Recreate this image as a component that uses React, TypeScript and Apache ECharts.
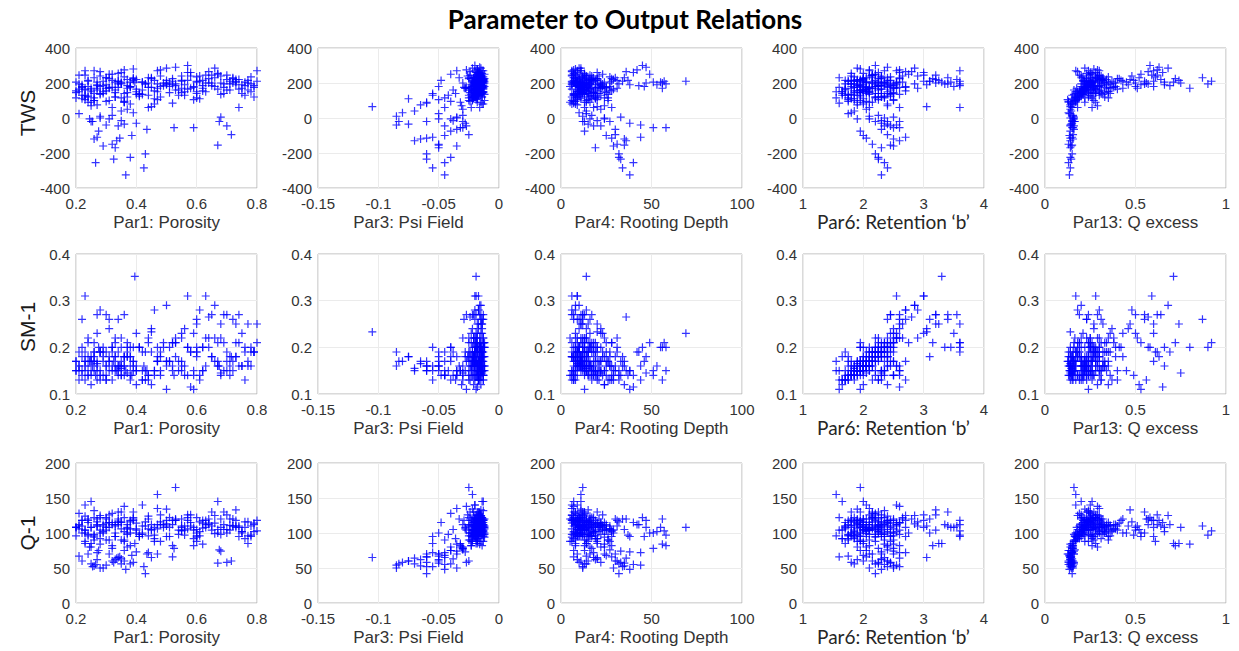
import React, { useEffect, useRef } from "react";
import * as echarts from "echarts";

// Ensemble samples: each index is one model run (parameters + outputs)
const par1 = [
  0.365,0.425,0.265,0.325,0.38,0.43,0.33,0.29,0.67,0.32, 0.335,0.26,0.345,0.27,0.385,0.715,0.275,0.435,0.525,0.59,
  0.34,0.7,0.3,0.36,0.4,0.25,0.675,0.35,0.245,0.31, 0.68,0.255,
  0.45,0.22,0.39,0.27,0.28,0.35,0.24,0.33,0.23,0.37, 0.26,0.29,0.21,0.44,0.6,0.52,0.32,0.27,0.36,0.23,
  0.41,0.28,0.74,0.3,0.38,0.2,0.47,0.25,0.53,0.47,
  0.21,0.23,0.24,0.26,0.27,0.29,0.3,0.31,0.33,0.34, 0.35,0.36,0.37,0.39,0.4,0.42,0.43,0.45,0.46,0.48,
  0.49,0.51,0.53,0.55,0.56,0.58,0.6,0.62,0.64,0.66, 0.69,0.71,0.73,0.75,0.77,0.79,0.22,0.25,0.28,0.32,
  0.35,0.38,0.41,0.47,0.54,0.63,0.7,0.24,0.3,0.36, 0.21,0.23,0.26,0.28,0.31,0.34,0.37,0.4,0.44,0.5,
  0.57,0.61,0.65,0.68,0.72,0.76,0.78,0.22,0.24,0.27, 0.29,0.32,0.34,0.36,0.38,0.42,0.46,0.5,0.52,0.57,
  0.59,0.62,0.67,0.73,0.25,0.31,0.39,0.48,0.55,0.6, 0.2,0.23,0.26,0.28,0.3,0.33,0.35,0.37,0.44,0.5,
  0.395,0.55,0.57,0.53,0.48,0.6,0.65,0.76,0.8,0.78, 0.72,0.62,0.68,0.58,0.45,0.5,0.64,0.7,0.74,0.61,
  0.56,0.66,0.52,0.77,0.8,0.47,0.59,0.69,0.73,0.63, 0.42,0.51,0.75,0.46,0.79,0.55,0.67,0.44,0.71,0.6,
  0.21,0.22,0.24,0.25,0.27,0.28,0.3,0.32,0.33,0.35, 0.36,0.38,0.39,0.41,0.43,0.46,0.49,0.52,0.55,0.58,
  0.61,0.64,0.67,0.7,0.73,0.76,0.79,0.2,0.23,0.26, 0.29,0.31,0.34,0.37,0.4,0.42,0.45,0.48,0.51,0.54,
  0.57,0.6,0.63,0.66,0.69,0.72,0.75,0.78,0.21,0.24, 0.27,0.3,0.33,0.36,0.39,0.22,0.25,0.28,0.31,0.34,
  0.37,0.4,0.47,0.53,0.59,0.65,0.71,0.77,0.2,0.26, 0.32,0.38,0.44,0.5,0.56,0.62,0.68,0.74,0.23,0.35,
];
const par3 = [
  -0.045,-0.055,-0.045,-0.06,-0.04,-0.06,-0.05,-0.035,-0.05,-0.05, -0.07,-0.065,-0.06,-0.055,-0.045,-0.025,-0.04,-0.035,-0.03,-0.032,
  -0.045,-0.027,-0.085,-0.075,-0.028,-0.083,-0.03,-0.038,-0.04,-0.05, -0.035,-0.06,
  -0.105,-0.075,-0.08,-0.065,-0.085,-0.07,-0.06,-0.02,-0.055,-0.03, -0.025,-0.018,-0.05,-0.045,-0.02,-0.06,-0.03,-0.015,-0.04,-0.022,
  -0.012,-0.035,-0.016,-0.028,-0.014,-0.025,-0.05,-0.013,-0.025,-0.022,
  -0.015,-0.018,-0.022,-0.014,-0.02,-0.016,-0.025,-0.013,-0.019,-0.017, -0.021,-0.015,-0.028,-0.012,-0.023,-0.016,-0.02,-0.014,-0.018,-0.026,
  -0.015,-0.019,-0.013,-0.022,-0.017,-0.024,-0.014,-0.02,-0.016,-0.021, -0.015,-0.019,-0.012,-0.018,-0.023,-0.014,-0.029,-0.032,-0.036,-0.04,
  -0.045,-0.05,-0.055,-0.035,-0.042,-0.03,-0.038,-0.048,-0.033,-0.027, -0.016,-0.02,-0.013,-0.017,-0.022,-0.014,-0.019,-0.015,-0.021,-0.016,
  -0.018,-0.013,-0.024,-0.017,-0.015,-0.02,-0.013,-0.025,-0.016,-0.014, -0.019,-0.023,-0.015,-0.018,-0.014,-0.02,-0.017,-0.022,-0.015,-0.019,
  -0.027,-0.016,-0.014,-0.021,-0.031,-0.013,-0.018,-0.023,-0.014,-0.02, -0.017,-0.013,-0.021,-0.015,-0.019,-0.024,-0.016,-0.013,-0.018,-0.015,
  -0.019,-0.015,-0.02,-0.016,-0.018,-0.014,-0.022,-0.017,-0.013,-0.015, -0.02,-0.016,-0.014,-0.018,-0.021,-0.019,-0.024,-0.016,-0.013,-0.02,
  -0.017,-0.015,-0.023,-0.018,-0.014,-0.016,-0.019,-0.021,-0.015,-0.017, -0.014,-0.022,-0.018,-0.013,-0.019,-0.025,-0.012,-0.02,-0.016,-0.018,
  -0.014,-0.017,-0.021,-0.013,-0.016,-0.019,-0.024,-0.015,-0.018,-0.012, -0.02,-0.016,-0.014,-0.022,-0.017,-0.013,-0.019,-0.015,-0.021,-0.016,
  -0.018,-0.013,-0.02,-0.015,-0.023,-0.017,-0.014,-0.019,-0.016,-0.012, -0.021,-0.015,-0.018,-0.013,-0.02,-0.017,-0.025,-0.014,-0.016,-0.019,
  -0.013,-0.022,-0.015,-0.018,-0.014,-0.02,-0.016,-0.013,-0.017,-0.019, -0.015,-0.021,-0.014,-0.018,-0.016,-0.012,-0.02,-0.015,-0.017,-0.023,
  -0.014,-0.018,-0.016,-0.013,-0.019,-0.015,-0.021,-0.017,-0.014,-0.016, -0.018,-0.013,-0.02,-0.015,-0.017,-0.014,-0.019,-0.016,-0.022,-0.015,
];
const par4 = [
  38,34,40,33,32,32,19,29,35,31, 36,35,28,44,25,30,13,30,51,58, 18,22,44,15,38,13,27,20,16,24, 33,12,
  20,11,10,9,12,14,16,11,8,22, 26,9,14,18,10,7,17,12,7,20, 13,24,28,15,8,19,9,11,12,11,
  8,12,6,15,10,18,7,21,9,13, 24,5,11,16,8,27,14,10,19,6, 22,12,9,17,7,25,11,14,20,8, 13,23,9,16,12,19,10,14,20,8,
  26,11,17,6,22,13,9,15,30,7, 13,9,11,6,14,18,10,24,12,8, 16,28,7,12,20,9,15,18,5,22, 8,13,16,10,27,6,14,11,19,9,
  13,31,7,17,24,12,8,15,21,10, 14,29,9,17,6,12,20,10,25,7,
  14,69,45,47,42,9,11,55,57,58, 7,56,47,40,35,38,36,13,17,8, 22,10,28,20,11,16,23,12,15,6, 51,46,53,37,43,31,49,56,34,27,
  9,14,6,19,11,23,8,16,12,27, 7,13,18,10,21,6,15,9,25,12, 17,8,11,29,14,7,20,10,16,6, 13,22,9,18,11,26,8,15,12,19,
  7,24,10,14,17,9,21,12,6,16, 11,28,8,13,19,10,15,7,23,12, 9,17,14,6,20,11,13,8,18,10, 25,7,16,12,9,22,14,11,15,32,
];
const par6 = [
  2.3,2.4,2.35,2.25,2.25,2.2,2.3,2.5,2.45,2.15, 2.6,2.5,2.05,2.7,2.0,2.4,1.95,2.3,2.5,2.6, 2.35,2.45,2.55,2.4,2.3,2.2,2.4,2.3,1.9,2.1, 2.5,2.6,
  3.05,2.0,1.8,1.9,2.1,1.85,2.15,2.2,1.7,2.05, 1.95,2.3,1.75,2.6,2.0,1.6,2.25,2.45,2.05,1.95, 2.1,2.35,3.6,1.7,2.4,1.55,2.5,1.65,1.95,1.55,
  1.85,2.05,1.75,2.2,1.95,2.4,1.6,2.1,2.3,1.8, 2.55,1.9,2.15,2.0,2.45,1.7,2.25,2.6,1.85,2.1,
  2.35,1.95,2.5,2.0,1.75,2.2,2.65,1.9,2.3,2.05, 2.4,1.8,2.15,2.5,1.95,2.25,2.7,2.0,1.65,2.2,
  2.35,1.8,2.45,2.1,1.9,2.55,2.25,1.7,2.05,2.6, 2.15,2.55,2.35,2.7,2.5,2.0,2.25,1.65,2.4,2.85,
  2.3,1.85,2.15,2.6,2.0,2.3,2.05,1.95,2.25,2.55, 1.75,2.1,2.4,1.85,2.2,2.05,2.7,1.9,2.35,3.0,
  1.6,2.45,2.0,2.25,2.4,2.6,1.95,2.2,1.8,2.5, 2.05,2.3,1.75,2.15,2.45,1.85,2.25,2.0,2.5,1.95,
  3.3,3.0,2.2,2.4,2.1,3.1,3.2,3.45,3.6,3.6, 3.4,2.5,2.3,2.6,2.0,1.95,2.8,3.2,3.55,2.9,
  3.05,2.85,3.15,3.25,3.6,3.35,3.5,3.4,3.2,3.0, 2.35,2.7,2.55,1.85,3.6,2.9,2.75,2.15,3.1,2.45,
  2.1,1.9,2.3,1.8,2.0,2.2,1.75,2.4,1.95,2.05, 2.25,1.85,2.15,2.35,1.7,2.0,2.45,1.9,2.1,2.3,
  1.8,2.55,2.05,1.95,2.2,1.65,2.4,2.0,2.15,1.85, 2.3,2.1,1.9,2.5,2.05,1.75,2.25,1.95,2.35,2.1,
  1.8,2.2,2.0,2.6,1.9,2.15,2.05,2.3,1.7,2.45, 2.0,1.85,2.25,2.1,1.95,2.4,2.05,1.8,2.2,2.0,
  2.35,1.9,2.1,2.5,1.75,2.25,2.0,2.15,1.95,2.3, 2.05,2.4,1.85,2.2,2.1,1.9,2.65,2.0,2.25,1.8,
];
const par13 = [
  0.135,0.14,0.13,0.145,0.14,0.15,0.14,0.145,0.15,0.13, 0.14,0.155,0.14,0.15,0.135,0.155,0.14,0.16,0.15,0.155,
  0.14,0.16,0.14,0.145,0.15,0.16,0.165,0.15,0.155,0.16, 0.16,0.15,
  0.14,0.15,0.13,0.14,0.155,0.145,0.13,0.165,0.15,0.14, 0.16,0.17,0.135,0.15,0.18,0.145,0.155,0.19,0.13,0.17,
  0.16,0.14,0.18,0.175,0.15,0.165,0.125,0.2,0.16,0.17,
  0.22,0.25,0.21,0.28,0.24,0.3,0.2,0.33,0.26,0.23, 0.35,0.22,0.27,0.29,0.21,0.31,0.24,0.37,0.26,0.2,
  0.39,0.28,0.23,0.32,0.25,0.34,0.27,0.22,0.41,0.29, 0.24,0.36,0.3,0.43,0.26,0.33,0.23,0.28,0.31,0.25,
  0.35,0.22,0.27,0.3,0.24,0.38,0.26,0.21,0.32,0.29, 0.19,0.17,0.24,0.18,0.27,0.22,0.3,0.35,0.25,0.2,
  0.28,0.37,0.24,0.32,0.4,0.27,0.35,0.3,0.2,0.36, 0.23,0.26,0.31,0.21,0.39,0.25,0.3,0.22,0.34,0.28,
  0.24,0.42,0.26,0.33,0.29,0.23,0.27,0.24,0.31,0.36, 0.26,0.4,0.22,0.28,0.24,0.33,0.25,0.3,0.38,0.23,
  0.71,0.6,0.58,0.63,0.62,0.55,0.5,0.66,0.92,0.9, 0.87,0.8,0.75,0.65,0.52,0.53,0.57,0.62,0.64,0.48,
  0.46,0.68,0.72,0.74,0.6,0.57,0.5,0.55,0.47,0.59, 0.45,0.6,0.66,0.49,0.69,0.51,0.53,0.56,0.43,0.61,
  0.2,0.24,0.18,0.27,0.22,0.3,0.17,0.25,0.21,0.33, 0.19,0.23,0.28,0.2,0.26,0.16,0.31,0.22,0.24,0.29,
  0.18,0.25,0.21,0.34,0.23,0.19,0.27,0.2,0.3,0.17, 0.24,0.22,0.26,0.19,0.28,0.21,0.32,0.23,0.25,0.2,
  0.27,0.18,0.24,0.29,0.22,0.26,0.2,0.35,0.23,0.19, 0.25,0.21,0.28,0.17,0.3,0.22,0.24,0.2,0.26,0.23,
  0.19,0.31,0.21,0.25,0.18,0.27,0.22,0.24,0.2,0.28, 0.23,0.26,0.19,0.32,0.21,0.25,0.3,0.22,0.17,0.24,
];
const tws = [
  -325,-285,-255,-235,-225,-205,-170,-160,-155,-150, -130,-120,-115,-110,-100,-95,-75,-65,-55,-55,
  -45,-45,-40,-35,-30,-20,-20,-15,-5,-5, 5,-20,
  65,110,30,75,10,40,90,120,130,50, 100,140,25,60,150,85,15,160,95,120, 135,0,60,170,80,115,105,150,160,150,
  195,160,210,140,185,150,230,175,120,255, 205,90,170,225,135,160,195,175,110,240,
  200,145,185,215,130,170,205,155,225,180, 140,195,210,170,160,120,175,90,140,250,
  115,180,140,270,130,200,160,215,230,275, 245,270,270,265,100,210,185,150,230,195,
  165,210,245,135,225,185,150,130,180,170, 210,60,195,235,180,205,155,285,190,260,
  175,215,255,205,70,225,280,120,240,140, 205,165,115,240,190,145,260,220,175,200,
  205,210,300,290,275,210,200,205,210,195, 230,170,200,260,230,190,265,245,220,240,
  190,285,225,215,270,195,180,195,220,245, 205,180,190,215,185,170,250,200,210,235,
  150,190,120,170,205,180,95,215,160,200, 140,175,230,125,195,80,185,210,145,240,
  110,200,165,220,190,130,175,155,245,100, 185,170,210,145,165,135,225,180,200,160,
  215,115,150,230,175,200,140,235,165,125, 190,155,205,90,215,180,160,135,250,175,
  120,220,170,195,105,185,160,200,145,230, 175,205,130,215,150,185,240,165,105,195,
];
const sm = [
  0.15,0.16,0.14,0.17,0.13,0.15,0.18,0.14,0.16,0.19, 0.15,0.17,0.16,0.13,0.14,0.18,0.2,0.15,0.14,0.15,
  0.19,0.17,0.16,0.18,0.15,0.17,0.16,0.14,0.17,0.15, 0.14,0.16,
  0.233,0.18,0.17,0.165,0.19,0.155,0.16,0.22,0.15,0.145, 0.17,0.19,0.16,0.14,0.2,0.15,0.13,0.27,0.18,0.17,
  0.2,0.15,0.21,0.19,0.18,0.15,0.17,0.18,0.21,0.17,
  0.15,0.17,0.14,0.19,0.16,0.2,0.13,0.17,0.21,0.15, 0.22,0.14,0.18,0.16,0.23,0.13,0.19,0.24,0.15,0.18,
  0.2,0.17,0.22,0.16,0.14,0.19,0.25,0.15,0.2,0.17, 0.21,0.14,0.18,0.23,0.16,0.19,0.26,0.15,0.13,0.2,
  0.17,0.16,0.2,0.18,0.15,0.22,0.19,0.14,0.16,0.27, 0.19,0.31,0.21,0.28,0.24,0.16,0.2,0.12,0.22,0.29,
  0.2,0.13,0.18,0.25,0.15,0.19,0.16,0.14,0.22,0.23, 0.17,0.15,0.26,0.16,0.18,0.19,0.28,0.17,0.21,0.31,
  0.11,0.2,0.17,0.21,0.12,0.26,0.2,0.14,0.15,0.19, 0.17,0.13,0.18,0.19,0.27,0.16,0.2,0.18,0.21,0.16,
  0.352,0.23,0.2,0.18,0.19,0.26,0.27,0.2,0.21,0.2, 0.26,0.2,0.145,0.115,0.12,0.11,0.265,0.27,0.27,0.28,
  0.24,0.29,0.21,0.25,0.25,0.2,0.23,0.27,0.25,0.31, 0.15,0.17,0.16,0.14,0.19,0.22,0.21,0.13,0.18,0.19,
  0.16,0.15,0.18,0.14,0.17,0.19,0.13,0.2,0.15,0.16, 0.18,0.14,0.17,0.2,0.13,0.15,0.21,0.16,0.17,0.19,
  0.14,0.22,0.16,0.15,0.18,0.13,0.19,0.17,0.16,0.15, 0.18,0.17,0.14,0.21,0.16,0.13,0.19,0.15,0.2,0.17,
  0.14,0.18,0.16,0.22,0.15,0.17,0.16,0.19,0.13,0.21, 0.15,0.14,0.18,0.16,0.15,0.2,0.17,0.14,0.18,0.16,
  0.19,0.15,0.17,0.21,0.14,0.18,0.16,0.17,0.15,0.19, 0.16,0.2,0.14,0.17,0.16,0.15,0.22,0.16,0.19,0.14,
];
const q = [
  48,52,55,58,56,42,62,50,57,60, 64,53,66,72,68,60,75,70,78,82, 65,58,54,60,73,56,76,63,80,70, 74,52,
  65,60,58,62,50,56,70,95,85,80, 90,100,67,72,105,66,78,110,75,88, 98,84,95,108,82,96,70,145,165,155,
  110,104,118,98,112,102,122,108,95,130, 115,88,106,120,100,110,116,104,92,126,
  112,108,118,103,97,110,122,107,114,99, 105,111,108,100,96,102,118,85,92,128,
  90,100,95,135,98,112,105,115,120,138, 128,140,132,125,90,115,108,104,124,113,
  106,102,130,98,110,116,95,100,120,110, 112,82,117,122,106,140,108,134,112,126,
  104,118,145,110,80,115,130,88,120,96, 108,104,96,122,114,100,130,112,106,118,
  85,108,122,118,112,100,104,108,103,97, 110,84,108,115,105,95,120,126,110,116,
  110,125,82,85,118,112,108,130,133,118, 100,95,102,97,112,110,100,120,120,88,
  112,118,98,108,120,104,90,115,110,106, 102,116,122,95,110,88,108,118,104,126,
  96,112,105,100,118,92,114,108,124,94, 110,115,120,100,106,98,112,116,122,104,
  118,94,108,114,112,120,102,110,106,96, 116,104,112,90,118,110,108,100,126,112,
  98,114,106,120,92,110,104,116,108,122, 112,118,96,110,104,114,120,108,100,116,
];

const colNames = ["Par1: Porosity", "Par3: Psi Field", "Par4: Rooting Depth", "Par6: Retention \u2018b\u2019", "Par13: Q excess"];
const colMin = [0.2, -0.15, 0, 1, 0];
const colMax = [0.8, 0, 100, 4, 1];
const colStep = [0.2, 0.05, 50, 1, 0.5];
const rowNames = ["TWS", "SM-1", "Q-1"];
const rowMin = [-400, 0.1, 0];
const rowMax = [400, 0.4, 200];
const rowStep = [200, 0.1, 50];
const titleText = "Parameter to Output Relations";

const colLeft = [76, 318, 561, 803, 1045];
const rowTop = [48, 254, 463];
const PW = 181;
const PH = 140;

export default function App() {
  const ref = useRef<HTMLDivElement>(null);
  useEffect(() => {
    if (!ref.current) return;
    const chart = echarts.init(ref.current, null, { renderer: "svg" });
    const params = [par1, par3, par4, par6, par13];
    const outs = [tws, sm, q];
    const fmt = (v: number) => String(parseFloat(v.toFixed(4)));
    const grids: any[] = [];
    const xAxes: any[] = [];
    const yAxes: any[] = [];
    const series: any[] = [];
    const font = "'Liberation Sans', Arial, sans-serif";
    for (let r = 0; r < 3; r++) {
      for (let c = 0; c < 5; c++) {
        const i = r * 5 + c;
        grids.push({
          left: colLeft[c], top: rowTop[r], width: PW, height: PH,
          show: true, borderColor: "#b4b4b4", borderWidth: 1, backgroundColor: "#fff",
        });
        xAxes.push({
          type: "value", gridIndex: i, min: colMin[c], max: colMax[c], interval: colStep[c],
          name: colNames[c], nameLocation: "middle", nameGap: c === 3 ? 24 : 26,
          nameTextStyle: c === 3
            ? { fontFamily: "Lato, 'Open Sans', sans-serif", fontSize: 19, color: "#262626" }
            : { fontFamily: font, fontSize: 17, color: "#333" },
          axisLine: { show: false }, axisTick: { show: false },
          splitLine: { show: true, lineStyle: { color: "#ebebeb", width: 1 } },
          axisLabel: { color: "#333", fontSize: 15, fontFamily: font, margin: 8, formatter: fmt },
        });
        yAxes.push({
          type: "value", gridIndex: i, min: rowMin[r], max: rowMax[r], interval: rowStep[r],
          axisLine: { show: false }, axisTick: { show: false },
          splitLine: { show: true, lineStyle: { color: "#ebebeb", width: 1 } },
          axisLabel: { color: "#333", fontSize: 15, fontFamily: font, margin: 6, formatter: fmt },
        });
        series.push({
          type: "scatter", xAxisIndex: i, yAxisIndex: i,
          symbol: "path://M5,0L5,10M0,5L10,5", symbolSize: 8,
          itemStyle: { color: "rgba(0,0,0,0)", borderColor: "#0000ff", borderWidth: 1.2 },
          data: params[c].map((x, k) => [x, outs[r][k]]),
        });
      }
    }
    const graphic: any[] = [
      {
        type: "text", x: 625, y: 19,
        style: { text: titleText, font: "bold 26px Lato, 'Open Sans', sans-serif", fill: "#000", align: "center", verticalAlign: "middle" },
      },
    ];
    const rowCenters = [113, 327, 533];
    rowNames.forEach((n, r) => {
      graphic.push({
        type: "text", x: 27, y: rowCenters[r], rotation: Math.PI / 2,
        style: { text: n, font: "21px 'Liberation Sans', Arial, sans-serif", fill: "#1a1a1a", align: "center", verticalAlign: "middle" },
      });
    });
    chart.setOption({
      animation: false,
      backgroundColor: "#fff",
      grid: grids, xAxis: xAxes, yAxis: yAxes, series, graphic,
    });
    return () => chart.dispose();
  }, []);
  return <div ref={ref} style={{ position: "absolute", left: 0, top: 0, width: 1239, height: 651 }} />;
}
